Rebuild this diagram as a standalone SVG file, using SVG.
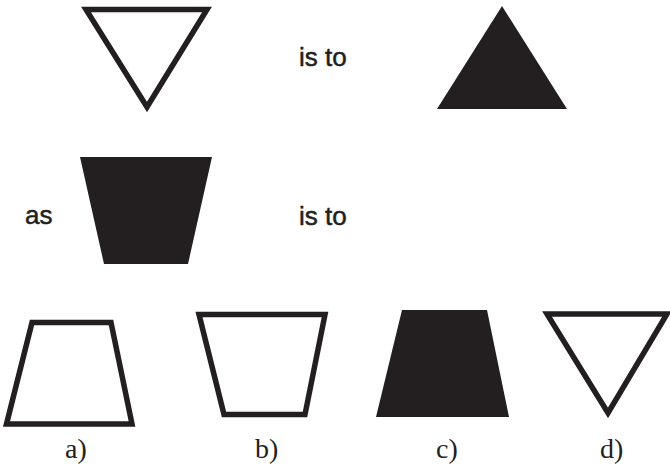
<svg xmlns="http://www.w3.org/2000/svg" width="670" height="466" viewBox="0 0 670 466">
<style>
.o{fill:none;stroke:#231f20;stroke-width:5.5;stroke-linejoin:miter;stroke-miterlimit:10}
.f{fill:#231f20;stroke:none}
.t{font-family:"Liberation Sans",Arial,sans-serif;font-size:26px;fill:#231f20;stroke:#231f20;stroke-width:0.5}
.l{font-family:"Liberation Serif","Times New Roman",serif;font-size:28px;fill:#231f20}
</style>
<rect width="670" height="466" fill="#ffffff"/>
<g id="tri-outline-top"><polygon class="o" points="86,9.5 207,9.5 147,107"/></g>
<g id="label-isto-1"><text class="t" x="299" y="66">is to</text></g>
<g id="tri-filled-top"><polygon class="f" points="437,109 567,109 502,6"/></g>
<g id="label-as"><text class="t" x="25" y="224">as</text></g>
<g id="trap-filled-mid"><polygon class="f" points="80,157 212,157 188,264 104,264"/></g>
<g id="label-isto-2"><text class="t" x="299" y="225">is to</text></g>
<g id="opt-a">
<polygon class="o" points="32,322.5 111,322.5 132,424 6.5,424"/>
<text class="l" x="65" y="458">a)</text>
</g>
<g id="opt-b">
<polygon class="o" points="199,314.5 325,314.5 305,414.5 224,414.5"/>
<text class="l" x="255" y="458">b)</text>
</g>
<g id="opt-c">
<polygon class="f" points="402,310 487,310 509,417 376,417"/>
<text class="l" x="436" y="458">c)</text>
</g>
<g id="opt-d">
<polygon class="o" points="547,314 667,314 608,413"/>
<text class="l" x="600" y="458">d)</text>
</g>
<g id="connectors"/>
</svg>
